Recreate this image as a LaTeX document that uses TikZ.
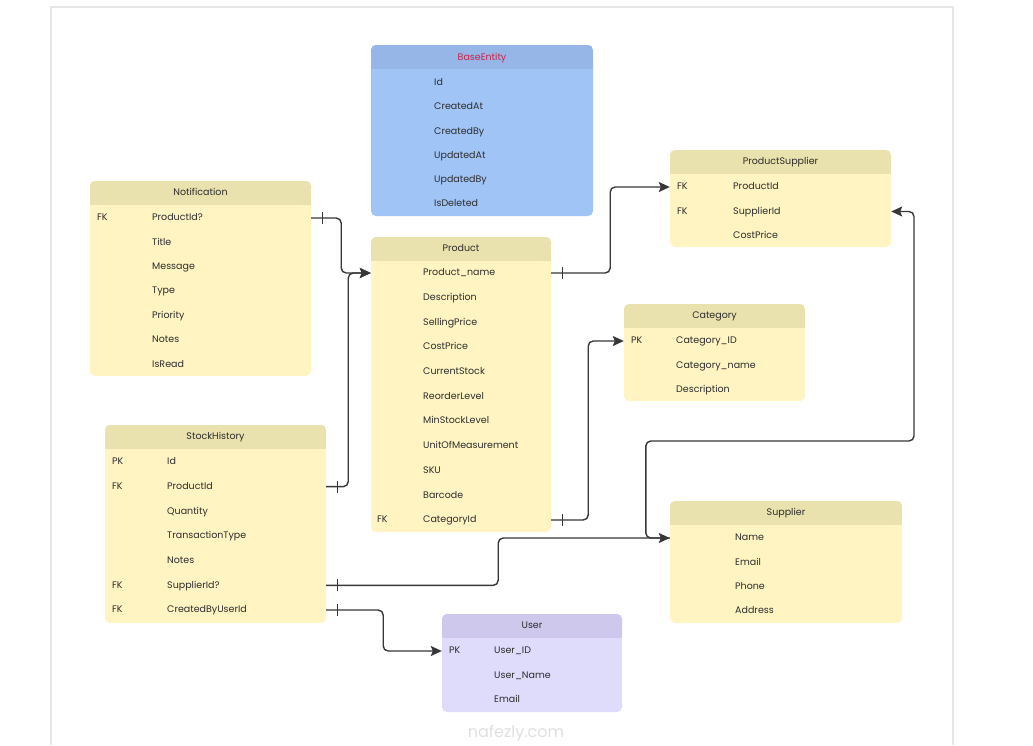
\documentclass[tikz,border=0pt]{standalone}
\usepackage{fontspec}
\setmainfont{Poppins}
\usetikzlibrary{arrows.meta,decorations.markings,fit}

\definecolor{ybody}{RGB}{255,244,194}
\definecolor{yhead}{RGB}{233,225,174}
\definecolor{bbody}{RGB}{161,196,246}
\definecolor{bhead}{RGB}{151,182,232}
\definecolor{pbody}{RGB}{223,219,250}
\definecolor{phead}{RGB}{206,201,236}
\definecolor{ink}{RGB}{45,45,45}
\definecolor{linegray}{RGB}{55,55,55}
\definecolor{framegray}{RGB}{230,230,230}
\definecolor{basered}{RGB}{204,34,68}

\tikzset{
  erbody/.style={rectangle, rounded corners=5pt, inner sep=0pt, draw=none},
  ertitle/.style={inner sep=0pt, text height=8pt, text depth=2.5pt, font=\fontsize{9.5}{11}\selectfont, text=ink},
  erfield/.style={anchor=west, inner sep=0pt, text height=8pt, text depth=2.5pt, font=\fontsize{9.5}{11}\selectfont, text=ink},
  conn/.style={draw=linegray, line width=1.4pt, rounded corners=5pt, -{Stealth[length=11pt,width=10pt,inset=2pt]}},
  onebar/.style={postaction={decorate}, decoration={markings, mark=at position 11pt with {\draw[linegray, line width=1.4pt, -] (0,-6pt) -- (0,6pt);}}}
}

% table body with a darker header band
\newcommand{\erbox}[7]{%
  \node[erbody, fill=#6, fit={(#2,#3) (#4,#5)}] (#1) {};
  \begin{scope}
    \clip[rounded corners=5pt] (#2,#3) rectangle (#4,#5);
    \fill[#7] (#2,#3) rectangle (#4,#3+24);
  \end{scope}
}

\begin{document}
\begin{tikzpicture}[x=1pt, y=-1pt]
  \useasboundingbox (0,0) rectangle (1033,745);
  \fill[white] (0,0) rectangle (1033,745);
  \draw[framegray, line width=1.5pt] (51,745) -- (51,7) -- (953,7) -- (953,745);

  % BaseEntity
  \erbox{base}{371}{45}{593}{216}{bbody}{bhead}
  \node[ertitle, text=basered] (base-t) at ([yshift=-13pt]base.north) {BaseEntity};
  \foreach \f [count=\i] in {Id, CreatedAt, CreatedBy, UpdatedAt, UpdatedBy, IsDeleted}
    \node[erfield] (base-\i) at (434, {83+24.2*(\i-1)}) {\f};

  % Notification
  \erbox{notif}{90}{181}{311}{376}{ybody}{yhead}
  \node[ertitle] (notif-t) at ([yshift=-12pt]notif.north) {Notification};
  \foreach \k/\f [count=\i] in {FK/ProductId?, /Title, /Message, /Type, /Priority, /Notes, /IsRead}{
    \node[erfield] (notif-k\i) at (97, {218+24.4*(\i-1)}) {\k};
    \node[erfield] (notif-\i) at (152, {218+24.4*(\i-1)}) {\f};
  }

  % Product
  \erbox{product}{371}{237}{551}{532}{ybody}{yhead}
  \node[ertitle] (product-t) at ([yshift=-12pt]product.north) {Product};
  \foreach \k/\f [count=\i] in {/Product\_name, /Description, /SellingPrice, /CostPrice, /CurrentStock, /ReorderLevel, /MinStockLevel, /UnitOfMeasurement, /SKU, /Barcode, FK/CategoryId}{
    \node[erfield] (product-k\i) at (377, {273+24.7*(\i-1)}) {\k};
    \node[erfield] (product-\i) at (423, {273+24.7*(\i-1)}) {\f};
  }

  % ProductSupplier
  \erbox{psup}{670}{150}{891}{247}{ybody}{yhead}
  \node[ertitle] (psup-t) at ([yshift=-12pt]psup.north) {ProductSupplier};
  \foreach \k/\f [count=\i] in {FK/ProductId, FK/SupplierId, /CostPrice}{
    \node[erfield] (psup-k\i) at (677, {187+24.5*(\i-1)}) {\k};
    \node[erfield] (psup-\i) at (733, {187+24.5*(\i-1)}) {\f};
  }

  % Category
  \erbox{cat}{624}{304}{805}{401}{ybody}{yhead}
  \node[ertitle] (cat-t) at ([yshift=-12pt]cat.north) {Category};
  \foreach \k/\f [count=\i] in {PK/Category\_ID, /Category\_name, /Description}{
    \node[erfield] (cat-k\i) at (631, {341+24.5*(\i-1)}) {\k};
    \node[erfield] (cat-\i) at (676, {341+24.5*(\i-1)}) {\f};
  }

  % StockHistory
  \erbox{stock}{105}{425}{326}{623}{ybody}{yhead}
  \node[ertitle] (stock-t) at ([yshift=-12pt]stock.north) {StockHistory};
  \foreach \k/\f [count=\i] in {PK/Id, FK/ProductId, /Quantity, /TransactionType, /Notes, FK/SupplierId?, FK/CreatedByUserId}{
    \node[erfield] (stock-k\i) at (112, {462+24.67*(\i-1)}) {\k};
    \node[erfield] (stock-\i) at (167, {462+24.67*(\i-1)}) {\f};
  }

  % Supplier
  \erbox{supplier}{670}{501}{902}{623}{ybody}{yhead}
  \node[ertitle] (supplier-t) at ([yshift=-12pt]supplier.north) {Supplier};
  \foreach \f [count=\i] in {Name, Email, Phone, Address}
    \node[erfield] (supplier-\i) at (735, {538+24.4*(\i-1)}) {\f};

  % User
  \erbox{user}{442}{614}{622}{712}{pbody}{phead}
  \node[ertitle] (user-t) at ([yshift=-12pt]user.north) {User};
  \foreach \k/\f [count=\i] in {PK/User\_ID, /User\_Name, /Email}{
    \node[erfield] (user-k\i) at (449, {651+24.5*(\i-1)}) {\k};
    \node[erfield] (user-\i) at (494, {651+24.5*(\i-1)}) {\f};
  }

  % relations
  \draw[conn, onebar] (notif.east |- notif-1) -- ++(30,0) |- (product.west |- product-1);
  \draw[conn, onebar] (stock.east |- stock-2) -- ++(22,0) |- (product.west |- product-1);
  \draw[conn, onebar] (product.east |- product-1) -- ++(59,0) |- (psup.west |- psup-1);
  \draw[conn, onebar] (product.east |- product-11) -- ++(37,0) |- (cat.west |- cat-1);
  \draw[conn, onebar] (stock.east |- stock-6) -- ++(172,0) |- (supplier.west |- supplier-1);
  \coordinate (turn) at (914,441);
  \draw[conn] (supplier.west |- supplier-1) -- ++(-24,0) |- (turn) |- (psup.east |- psup-2);
  \draw[conn, onebar] (stock.east |- stock-7) -- ++(57,0) |- (user.west |- user-1);

  \node[text=black!12, font=\fontsize{16}{18}\selectfont] (wm) at (516,733) {nafezly.com};
\end{tikzpicture}
\end{document}
